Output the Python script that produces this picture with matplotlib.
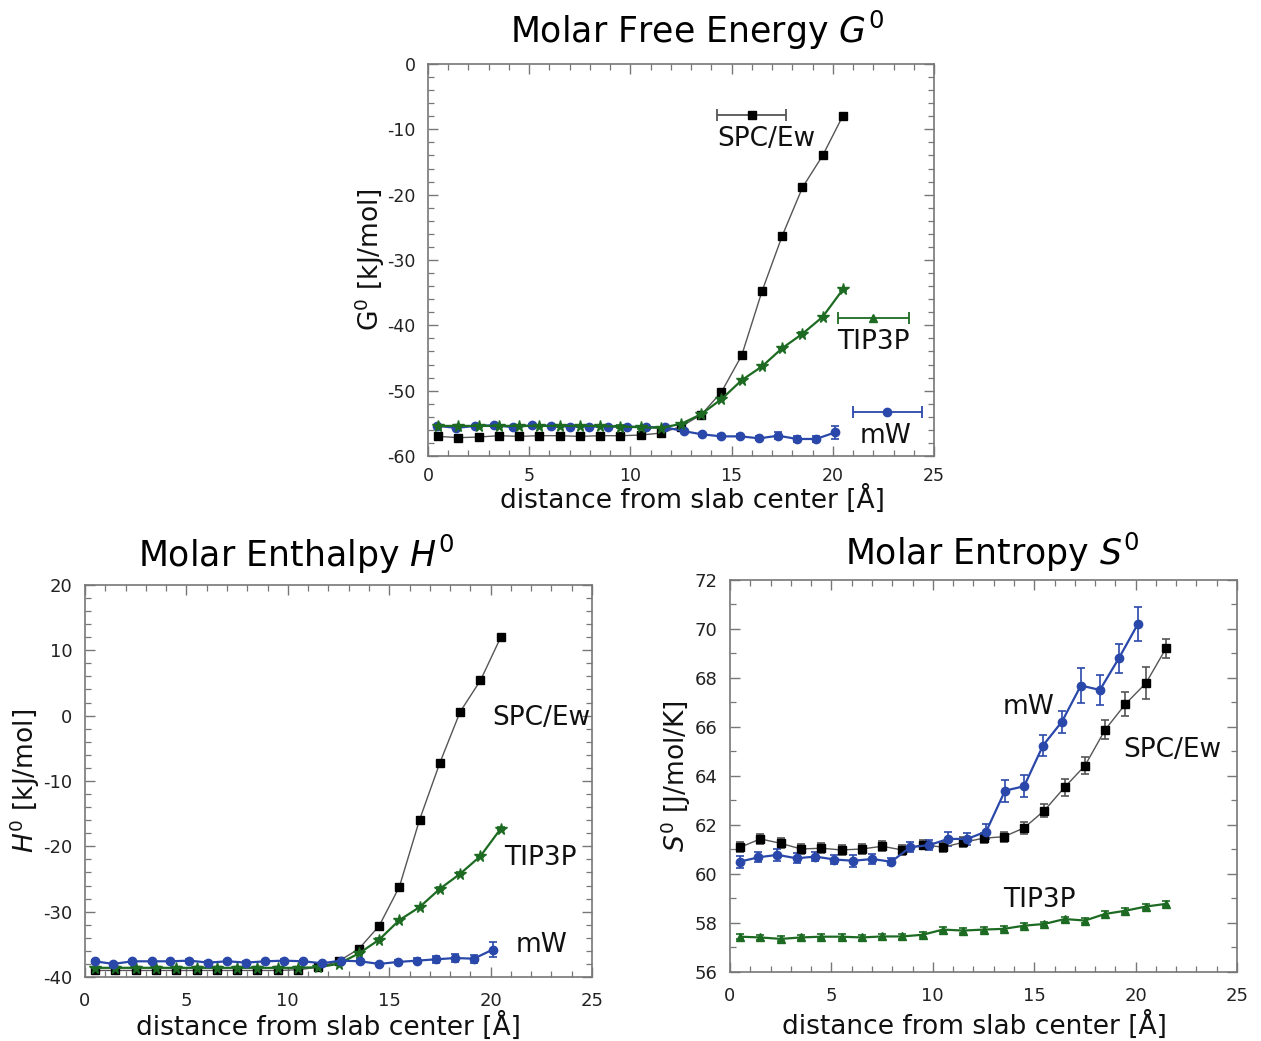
import matplotlib
matplotlib.use("Agg")
import matplotlib.pyplot as plt
from matplotlib.ticker import MultipleLocator

plt.rcParams['font.family'] = ['DejaVu Sans']
plt.rcParams['axes.unicode_minus'] = False
plt.rcParams['mathtext.fontset'] = 'dejavusans'

# ---------------- data ----------------
x_spc = [0.5, 1.5, 2.5, 3.5, 4.5, 5.5, 6.5, 7.5, 8.5, 9.5, 10.5,
         11.5, 12.5, 13.5, 14.5, 15.5, 16.5, 17.5, 18.5, 19.5, 20.5]
x_spc_s = [0.5, 1.5, 2.5, 3.5, 4.5, 5.5, 6.5, 7.5, 8.5, 9.5, 10.5,
           11.5, 12.5, 13.5, 14.5, 15.5, 16.5, 17.5, 18.5, 19.5, 20.5, 21.5]
x_mw = [0.47, 1.40, 2.34, 3.28, 4.21, 5.15, 6.08, 7.02, 7.95, 8.89, 9.82,
        10.76, 11.69, 12.63, 13.56, 14.50, 15.43, 16.37, 17.30, 18.24, 19.17, 20.11]

# Free energy G0 [kJ/mol]
g_spc = [-57.0, -57.2, -57.1, -56.9, -57.0, -56.9, -56.9, -57.0, -56.9, -56.9, -56.8,
         -56.5, -55.5, -53.7, -50.2, -44.6, -34.8, -26.3, -18.9, -14.0, -7.9]
g_tip = [-55.4, -55.4, -55.4, -55.4, -55.4, -55.4, -55.4, -55.4, -55.4, -55.5, -55.6,
         -55.7, -55.1, -53.6, -51.3, -48.4, -46.3, -43.5, -41.3, -38.7, -34.5]
g_mw = [-55.4, -55.7, -55.4, -55.3, -55.6, -55.3, -55.4, -55.5, -55.5, -55.5, -55.5,
        -55.6, -55.6, -56.2, -56.7, -57.0, -57.0, -57.3, -56.9, -57.4, -57.4, -56.4]
g_spc_err = [0.2] * 21
g_tip_err = [0.2] * 21
g_mw_err = [0.2, 0.2, 0.2, 0.2, 0.2, 0.2, 0.2, 0.2, 0.2, 0.2, 0.2,
            0.2, 0.2, 0.2, 0.2, 0.3, 0.3, 0.3, 0.5, 0.5, 0.5, 1.0]

# Enthalpy H0 [kJ/mol]
h_spc = [-39.0, -39.0, -39.0, -39.0, -39.0, -39.0, -39.0, -39.0, -39.0, -39.0, -38.9,
         -38.5, -37.6, -35.7, -32.2, -26.2, -15.9, -7.2, 0.6, 5.4, 12.0]
h_tip = [-38.6, -38.6, -38.6, -38.6, -38.6, -38.6, -38.6, -38.6, -38.6, -38.6, -38.6,
         -38.5, -38.0, -36.4, -34.3, -31.3, -29.3, -26.5, -24.2, -21.5, -17.3]
h_mw = [-37.6, -38.0, -37.6, -37.6, -37.6, -37.5, -37.8, -37.6, -37.8, -37.6, -37.5,
        -37.6, -37.9, -37.5, -37.6, -38.0, -37.7, -37.5, -37.3, -37.1, -37.2, -35.8]
h_spc_err = [0.2] * 21
h_tip_err = [0.2] * 21
h_mw_err = [0.2, 0.2, 0.2, 0.2, 0.2, 0.2, 0.2, 0.2, 0.2, 0.2, 0.2,
            0.2, 0.2, 0.2, 0.2, 0.2, 0.3, 0.4, 0.5, 0.6, 0.6, 1.1]

# Entropy S0 [J/mol/K]
s_spc = [61.09, 61.43, 61.25, 61.02, 61.05, 60.98, 61.02, 61.13, 60.98, 61.20, 61.09,
         61.29, 61.46, 61.52, 61.88, 62.59, 63.54, 64.42, 65.89, 66.94, 67.78, 69.21]
s_tip = [57.44, 57.41, 57.35, 57.41, 57.44, 57.44, 57.41, 57.45, 57.45, 57.52, 57.73,
         57.69, 57.73, 57.76, 57.89, 57.96, 58.16, 58.10, 58.37, 58.50, 58.67, 58.78]
s_mw = [60.50, 60.68, 60.78, 60.64, 60.71, 60.59, 60.54, 60.61, 60.50, 61.09, 61.18,
        61.43, 61.43, 61.73, 63.40, 63.58, 65.24, 66.22, 67.69, 67.51, 68.80, 70.20]
s_spc_err = [0.2, 0.2, 0.2, 0.2, 0.2, 0.2, 0.2, 0.2, 0.2, 0.2, 0.2,
             0.2, 0.2, 0.2, 0.25, 0.25, 0.35, 0.35, 0.4, 0.5, 0.65, 0.4]
s_tip_err = [0.1] * 22
s_mw_err = [0.25, 0.2, 0.25, 0.2, 0.2, 0.2, 0.25, 0.2, 0.15, 0.2, 0.2,
            0.3, 0.25, 0.3, 0.45, 0.45, 0.42, 0.45, 0.7, 0.62, 0.6, 0.7]

labels = ["SPC/Ew", "TIP3P", "mW"]

# ---------------- styles ----------------
C_SPC = "black"
C_SPC_LINE = "#555555"
C_TIP = "#1d6b22"
C_MW = "#2a48aa"
FRAME = "#777777"

fig = plt.figure(figsize=(12.61, 10.41), dpi=100)


def style_axes(ax, xmax, ymin, ymax, ymaj, ymin_step, tick_fs, xpad):
    ax.set_xlim(0, xmax)
    ax.set_ylim(ymin, ymax)
    ax.xaxis.set_major_locator(MultipleLocator(5))
    ax.xaxis.set_minor_locator(MultipleLocator(1))
    ax.yaxis.set_major_locator(MultipleLocator(ymaj))
    ax.yaxis.set_minor_locator(MultipleLocator(ymin_step))
    ax.tick_params(which='both', direction='in', top=True, right=True,
                   color=FRAME, labelsize=tick_fs, labelcolor='#222222')
    ax.tick_params(which='major', length=7, width=1.0)
    ax.tick_params(axis='y', which='major', pad=9)
    ax.tick_params(axis='x', which='major', pad=xpad)
    ax.tick_params(which='minor', length=4, width=0.9)
    for s in ax.spines.values():
        s.set_color(FRAME)
        s.set_linewidth(1.2)


def plot_series(ax, x, y, err, color, lcolor, marker, ms, lw):
    ax.errorbar(x, y, yerr=err, color=lcolor, ecolor=lcolor, lw=lw,
                marker=marker, ms=ms, mfc=color, mec=color, capsize=3,
                elinewidth=1.2, capthick=1.2, zorder=3)


# ---------------- top: G0 ----------------
axg = fig.add_axes([0.3394, 0.5620, 0.4013, 0.3765])
style_axes(axg, 25, -60, 0, 10, 2, 12.5, 8)
plot_series(axg, x_spc, g_spc, g_spc_err, C_SPC, C_SPC_LINE, 's', 6, 1.0)
plot_series(axg, x_mw, g_mw, g_mw_err, C_MW, C_MW, 'o', 6, 1.6)
plot_series(axg, x_spc, g_tip, g_tip_err, C_TIP, C_TIP, '*', 8.5, 1.6)

# gnuplot-style key samples (axes fraction)
key = [(0.640, 0.068, 0.870, 0.668, 0.808, C_SPC, C_SPC_LINE, 's', 6, 1.0),
       (0.880, 0.070, 0.352, 0.880, 0.292, C_TIP, C_TIP, '^', 6, 1.6),
       (0.908, 0.068, 0.113, 0.905, 0.052, C_MW, C_MW, 'o', 6, 1.6)]
for lab, (kx, kw, ky, tx, ty, mc, lc, mk, ms, lw) in zip(labels, key):
    axg.errorbar([kx], [ky], xerr=[kw], transform=axg.transAxes, color=lc,
                 ecolor=lc, marker=mk, mfc=mc, mec=mc, ms=ms, capsize=4,
                 elinewidth=1.3, capthick=1.3, clip_on=False)
    axg.text(tx, ty, lab, transform=axg.transAxes, ha='center', va='center',
             fontsize=19, color='#111111')

fig.text(0.553, 0.9587, r'Molar Free Energy $\mathit{G^0}$', ha='center',
         va='baseline', fontsize=25)
axg.set_xlabel('distance from slab center [Å]', fontsize=19, color='#111111')
axg.xaxis.set_label_coords(0.522, -0.112)
axg.xaxis.label.set_va('center')
axg.set_ylabel(r'$\mathrm{G^0}$ [kJ/mol]', fontsize=19, color='#111111')
axg.yaxis.set_label_coords(-0.115, 0.5)
axg.yaxis.label.set_va('center')

# ---------------- bottom-left: H0 ----------------
axh = fig.add_axes([0.0674, 0.0615, 0.4021, 0.3766])
style_axes(axh, 25, -40, 20, 10, 2, 13, 11)
plot_series(axh, x_spc, h_spc, h_spc_err, C_SPC, C_SPC_LINE, 's', 6, 1.0)
plot_series(axh, x_spc, h_tip, h_tip_err, C_TIP, C_TIP, '*', 8.5, 1.6)
plot_series(axh, x_mw, h_mw, h_mw_err, C_MW, C_MW, 'o', 6, 1.6)
for lab, (tx, ty) in zip(labels, [(0.899, 0.661), (0.899, 0.304), (0.901, 0.082)]):
    axh.text(tx, ty, lab, transform=axh.transAxes, ha='center', va='center',
             fontsize=19, color='#111111')
fig.text(0.2347, 0.4553, r'Molar Enthalpy $\mathit{H^0}$', ha='center',
         va='baseline', fontsize=25)
axh.set_xlabel('distance from slab center [Å]', fontsize=19, color='#111111')
axh.xaxis.set_label_coords(0.481, -0.125)
axh.xaxis.label.set_va('center')
axh.set_ylabel(r'$\mathit{H^0}$ [kJ/mol]', fontsize=19, color='#111111')
axh.yaxis.set_label_coords(-0.118, 0.5)
axh.yaxis.label.set_va('center')

# ---------------- bottom-right: S0 ----------------
axs = fig.add_axes([0.5789, 0.0663, 0.4021, 0.3766])
style_axes(axs, 25, 56, 72, 2, 1, 13, 11)
plot_series(axs, x_spc_s, s_spc, s_spc_err, C_SPC, C_SPC_LINE, 's', 6, 1.0)
plot_series(axs, x_spc_s, s_tip, s_tip_err, C_TIP, C_TIP, '^', 6, 1.6)
plot_series(axs, x_mw, s_mw, s_mw_err, C_MW, C_MW, 'o', 6, 1.6)
for lab, (tx, ty) in zip(labels, [(0.872, 0.566), (0.611, 0.184), (0.588, 0.676)]):
    axs.text(tx, ty, lab, transform=axs.transAxes, ha='center', va='center',
             fontsize=19, color='#111111')
fig.text(0.7867, 0.4573, r'Molar Entropy $\mathit{S^0}$', ha='center',
         va='baseline', fontsize=25)
axs.set_xlabel('distance from slab center [Å]', fontsize=19, color='#111111')
axs.xaxis.set_label_coords(0.483, -0.137)
axs.xaxis.label.set_va('center')
axs.set_ylabel(r'$\mathit{S^0}$ [J/mol/K]', fontsize=19, color='#111111')
axs.yaxis.set_label_coords(-0.106, 0.5)
axs.yaxis.label.set_va('center')

fig.savefig("out.png", dpi=100)
